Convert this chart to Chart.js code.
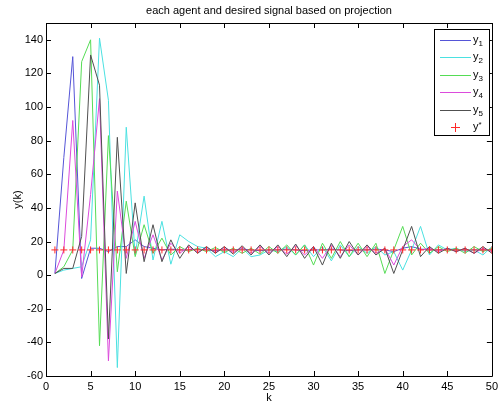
<!DOCTYPE html>
<html>
<head>
<meta charset="utf-8">
<script src="https://cdn.jsdelivr.net/npm/chart.js@4.4.0/dist/chart.umd.min.js"></script>
<style>
  body { margin: 0; background: #fff; }
  #wrap { width: 502px; height: 403px; }
</style>
</head>
<body>
<div id="wrap"><canvas id="myChart" width="502" height="403"></canvas></div>
<script>
// iteration index k
const k = [1,2,3,4,5,6,7,8,9,10,11,12,13,14,15,16,17,18,19,20,21,22,23,24,25,
           26,27,28,29,30,31,32,33,34,35,36,37,38,39,40,41,42,43,44,45,46,47,48,49,50];

// agent outputs
const y1 = [1,70,130,-2,16,16,14,17,17,21,17,16,15,15.5,15,15,15.5,15,14.5,15,15,15.5,15,14.5,15,
            15,15.5,15,14.5,15,15,15.5,15,14.5,15,15,15.5,15,14,16,17,15.5,15,15,15.5,15,15,15,15,15];
const y2 = [1,3,4,5,21,141,104,-55,88,12,47,9,32,6.5,24,20,17,16,11,14,11,16,11,12,15,
            14,17,12,18,11,17,8.5,18,11,17,13,17,12,14,3,15,29,12,18,15,16,14,15,12,17];
const y3 = [1,5,15,127,140,-42,83,2,44,11,30,13,22,12,17,14,16,14,16.5,13.5,16,13,16,12.5,17,
            13,18,12,18,6,19,10,20,11,19,11,19,1,15,29,12,19,13,17,14,16,13,17,14,16];
const y4 = [1,15,92,-1,48,105,-51,50,10,32,10,24,9,19,13,17,13.5,16.5,13.5,16.5,13.5,16.5,13,17,13,
            17,12.5,17.5,12,17,10,18,11,18,12,17,13,16,6,17,21,15,16,14,16,14,16,13,16,14];
const y5 = [1,4,4,23,131,113,-38,82,1,43,8,30,8,21,10,18,13,17,13,17,12.5,17.5,12,18,12,
            18,11,18.5,10,17,6,19,10,20,12,18,12,16,1,15,29,11,17,13,16,14,16,13,17,13];
// desired signal
const yStar = [15,15,15,15,15,15,15,15,15,15,15,15,15,15,15,15,15,15,15,15,15,15,15,15,15,
               15,15,15,15,15,15,15,15,15,15,15,15,15,15,15,15,15,15,15,15,15,15,15,15,15];

const seriesLabels = ['y1', 'y2', 'y3', 'y4', 'y5', 'y*'];
const seriesColors = ['rgb(85,85,215)', 'rgb(75,225,225)', 'rgb(85,220,85)',
                      'rgb(220,75,220)', 'rgb(80,80,80)', 'rgb(255,40,40)'];
const xTickValues = [0,5,10,15,20,25,30,35,40,45,50];
const yTickValues = [-60,-40,-20,0,20,40,60,80,100,120,140];

const FONT = '"Liberation Sans", Arial, sans-serif';

function toPoints(arr) {
    return arr.map((v, i) => ({ x: k[i], y: v }));
}

function lineSet(i, data) {
    return {
        label: seriesLabels[i],
        data: toPoints(data),
        borderColor: seriesColors[i],
        backgroundColor: seriesColors[i],
        borderWidth: 1,
        pointRadius: 0,
        tension: 0,
        fill: false,
        order: 6 - i
    };
}

// box, inside tick marks, title and legend the matlab way
const matlabAxes = {
    id: 'matlabAxes',
    afterDatasetsDraw(chart) {
        const ctx = chart.ctx;
        const a = chart.chartArea;
        const xs = chart.scales.x, ys = chart.scales.y;
        ctx.save();
        ctx.strokeStyle = '#000';
        ctx.lineWidth = 1;
        ctx.beginPath();
        ctx.rect(Math.round(a.left) + 0.5, Math.round(a.top) + 0.5,
                 Math.round(a.right - a.left), Math.round(a.bottom - a.top));
        ctx.stroke();

        ctx.beginPath();
        xs.ticks.forEach(t => {
            const px = Math.round(xs.getPixelForValue(t.value)) + 0.5;
            ctx.moveTo(px, a.bottom); ctx.lineTo(px, a.bottom - 5);
            ctx.moveTo(px, a.top); ctx.lineTo(px, a.top + 5);
        });
        ys.ticks.forEach(t => {
            const py = Math.round(ys.getPixelForValue(t.value)) + 0.5;
            ctx.moveTo(a.left, py); ctx.lineTo(a.left + 5, py);
            ctx.moveTo(a.right, py); ctx.lineTo(a.right - 5, py);
        });
        ctx.stroke();
        ctx.restore();
    },
    afterDraw(chart) {
        const ctx = chart.ctx;
        const a = chart.chartArea;
        ctx.save();

        // title
        ctx.fillStyle = '#000';
        ctx.font = '11px ' + FONT;
        ctx.textAlign = 'center';
        ctx.textBaseline = 'middle';
        ctx.fillText('each agent and desired signal based on projection', (a.left + a.right) / 2, 11);

        // legend
        const bw = 55, bh = 106;
        const bx = Math.round(a.right) - 58, by = Math.round(a.top) + 6;
        ctx.fillStyle = '#fff';
        ctx.fillRect(bx, by, bw, bh);
        ctx.strokeStyle = '#000';
        ctx.lineWidth = 1;
        ctx.strokeRect(bx + 0.5, by + 0.5, bw, bh);

        seriesLabels.forEach((lab, i) => {
            const ry = Math.round(by + 10.5 + i * 17.5);
            ctx.fillStyle = seriesColors[i];
            if (i === seriesLabels.length - 1) {
                const cx = bx + 21;
                ctx.fillRect(cx - 4, ry, 9, 1);
                ctx.fillRect(cx, ry - 4, 1, 9);
            } else {
                ctx.fillRect(bx + 6, ry, 31, 1);
            }

            const base = lab.charAt(0), rest = lab.slice(1);
            ctx.fillStyle = '#000';
            ctx.textAlign = 'left';
            ctx.textBaseline = 'alphabetic';
            ctx.font = '11px ' + FONT;
            const tx = bx + 39;
            ctx.fillText(base, tx, ry + 2.5);
            const w = ctx.measureText(base).width;
            ctx.font = '8px ' + FONT;
            ctx.fillText(rest, tx + w, rest === '*' ? ry - 0.5 : ry + 5.5);
        });
        ctx.restore();
    }
};

const ctx = document.getElementById('myChart').getContext('2d');
const myChart = new Chart(ctx, {
    type: 'line',
    data: {
        datasets: [
            lineSet(0, y1),
            lineSet(1, y2),
            lineSet(2, y3),
            lineSet(3, y4),
            lineSet(4, y5),
            {
                label: seriesLabels[5],
                data: toPoints(yStar),
                showLine: false,
                borderColor: seriesColors[5],
                backgroundColor: seriesColors[5],
                borderWidth: 1,
                pointStyle: 'cross',
                pointRadius: 3.5,
                pointHoverRadius: 3.5,
                order: 0
            }
        ]
    },
    options: {
        responsive: false,
        animation: false,
        events: [],
        layout: { padding: { top: 23, right: 9, left: 0, bottom: 0 } },
        plugins: {
            legend: { display: false },
            title: { display: false },
            tooltip: { enabled: false }
        },
        scales: {
            x: {
                type: 'linear',
                min: 0,
                max: 50,
                grid: { display: false, drawTicks: false },
                border: { display: false },
                afterBuildTicks: axis => { axis.ticks = xTickValues.map(v => ({ value: v })); },
                afterFit: axis => { axis.height = 27; },
                ticks: {
                    autoSkip: false,
                    maxRotation: 0,
                    padding: 4,
                    color: '#000',
                    font: { family: FONT, size: 11 }
                },
                title: {
                    display: true,
                    text: 'k',
                    color: '#000',
                    padding: { top: 0, bottom: -1.5 },
                    font: { family: FONT, size: 11 }
                }
            },
            y: {
                type: 'linear',
                min: -60,
                max: 150,
                grid: { display: false, drawTicks: false },
                border: { display: false },
                afterBuildTicks: axis => { axis.ticks = yTickValues.map(v => ({ value: v })); },
                afterFit: axis => { axis.width = 46; },
                ticks: {
                    autoSkip: false,
                    padding: 3,
                    color: '#000',
                    font: { family: FONT, size: 11 }
                },
                title: {
                    display: true,
                    text: 'y(k)',
                    color: '#000',
                    padding: { top: 11, bottom: 0 },
                    font: { family: FONT, size: 11 }
                }
            }
        }
    },
    plugins: [matlabAxes]
});
</script>
</body>
</html>
